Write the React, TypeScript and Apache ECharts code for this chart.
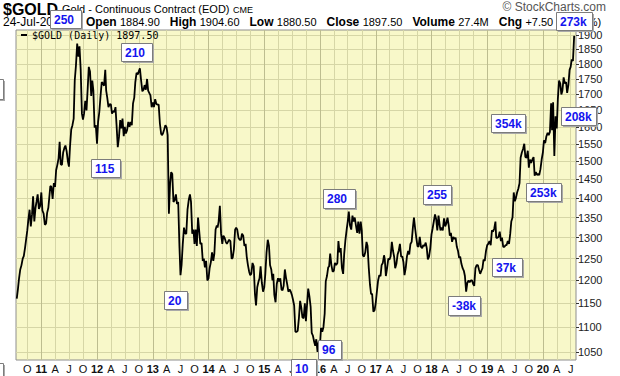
import React, { useEffect, useRef } from "react";
import * as echarts from "echarts";

// ---- data ----
const SLOT_DAYS = [1, 8, 16, 24];

const gold2010 = [1160,
  1182, 1205, 1225, 1235,
  1250, 1256, 1275, 1298,
  1318, 1345, 1370, 1328,
  1358, 1405, 1340, 1375,
  1392, 1410, 1372, 1380];
const gold2011 = [
  1415, 1368, 1360, 1332,
  1335, 1362, 1375, 1410,
  1432, 1430, 1398, 1440,
  1430, 1475, 1490, 1508,
  1556, 1492, 1490, 1525,
  1538, 1545, 1528, 1500,
  1485, 1542, 1592, 1605,
  1625, 1745, 1795, 1870,
  1825, 1860, 1780, 1640,
  1622, 1640, 1680, 1650,
  1720, 1790, 1775, 1695,
  1745, 1712, 1598, 1605];
const gold2012 = [
  1550, 1615, 1645, 1695,
  1740, 1735, 1728, 1780,
  1712, 1690, 1660, 1670,
  1668, 1640, 1648, 1645,
  1660, 1605, 1540, 1570,
  1620, 1595, 1625, 1572,
  1600, 1580, 1590, 1615,
  1600, 1615, 1605, 1672,
  1690, 1740, 1770, 1765,
  1775, 1785, 1745, 1710,
  1715, 1730, 1715, 1750,
  1712, 1705, 1697, 1660];
const gold2013 = [
  1675, 1660, 1685, 1670,
  1668, 1668, 1610, 1580,
  1575, 1580, 1592, 1605,
  1598, 1575, 1360, 1440,
  1470, 1465, 1390, 1395,
  1410, 1385, 1390, 1280,
  1212, 1235, 1285, 1325,
  1310, 1310, 1370, 1395,
  1410, 1390, 1310, 1320,
  1285, 1320, 1280, 1350,
  1315, 1285, 1287, 1245,
  1250, 1230, 1245, 1200];
const gold2014 = [
  1205, 1228, 1242, 1265,
  1245, 1262, 1320, 1330,
  1325, 1340, 1380, 1310,
  1285, 1305, 1300, 1290,
  1285, 1290, 1295, 1292,
  1250, 1252, 1272, 1320,
  1325, 1320, 1300, 1295,
  1295, 1310, 1305, 1280,
  1285, 1255, 1235, 1220,
  1212, 1215, 1240, 1232,
  1170, 1145, 1185, 1197,
  1205, 1232, 1195, 1175];
const gold2015 = [
  1185, 1215, 1265, 1295,
  1280, 1235, 1225, 1200,
  1215, 1168, 1152, 1192,
  1205, 1198, 1205, 1180,
  1178, 1188, 1225, 1205,
  1190, 1175, 1180, 1175,
  1168, 1158, 1145, 1090,
  1090, 1092, 1118, 1155,
  1140, 1120, 1118, 1150,
  1112, 1145, 1182, 1165,
  1142, 1088, 1082, 1070,
  1062, 1075, 1050, 1070];
const gold2016 = [
  1062, 1098, 1090, 1100,
  1128, 1198, 1210, 1230,
  1232, 1262, 1235, 1220,
  1222, 1240, 1235, 1240,
  1292, 1265, 1275, 1228,
  1215, 1262, 1295, 1320,
  1340, 1365, 1330, 1320,
  1355, 1340, 1350, 1330,
  1312, 1340, 1310, 1340,
  1318, 1258, 1255, 1265,
  1290, 1280, 1228, 1190,
  1170, 1170, 1132, 1135];
const gold2017 = [
  1152, 1175, 1200, 1212,
  1210, 1235, 1240, 1258,
  1248, 1210, 1228, 1250,
  1248, 1255, 1290, 1268,
  1255, 1228, 1238, 1260,
  1270, 1285, 1255, 1255,
  1242, 1212, 1228, 1255,
  1268, 1260, 1285, 1290,
  1325, 1350, 1322, 1298,
  1280, 1278, 1302, 1278,
  1275, 1282, 1280, 1288,
  1275, 1248, 1255, 1275];
const gold2018 = [
  1308, 1322, 1340, 1358,
  1345, 1318, 1355, 1330,
  1318, 1325, 1318, 1348,
  1328, 1335, 1350, 1330,
  1305, 1312, 1290, 1302,
  1297, 1300, 1278, 1268,
  1252, 1255, 1238, 1228,
  1222, 1210, 1175, 1195,
  1200, 1196, 1200, 1200,
  1192, 1188, 1228, 1235,
  1235, 1225, 1215, 1222,
  1228, 1248, 1245, 1268];
const gold2019 = [
  1282, 1285, 1292, 1282,
  1318, 1315, 1322, 1340,
  1300, 1300, 1302, 1315,
  1292, 1300, 1278, 1278,
  1282, 1282, 1292, 1285,
  1310, 1340, 1350, 1415,
  1392, 1400, 1415, 1425,
  1440, 1510, 1525, 1535,
  1550, 1512, 1510, 1530,
  1482, 1505, 1495, 1505,
  1512, 1460, 1470, 1462,
  1465, 1462, 1478, 1505];
const gold2020 = [
  1525, 1560, 1552, 1572,
  1582, 1575, 1585, 1672,
  1590, 1675, 1515, 1632,
  1595, 1685, 1745, 1735,
  1700, 1712, 1755, 1735,
  1740, 1705, 1730, 1780,
  1790, 1815, 1810, 1897.5];

const goldYears = [
  { year: 2010, startMonth: 6, startSlot: 3, values: gold2010 },
  { year: 2011, startMonth: 0, startSlot: 0, values: gold2011 },
  { year: 2012, startMonth: 0, startSlot: 0, values: gold2012 },
  { year: 2013, startMonth: 0, startSlot: 0, values: gold2013 },
  { year: 2014, startMonth: 0, startSlot: 0, values: gold2014 },
  { year: 2015, startMonth: 0, startSlot: 0, values: gold2015 },
  { year: 2016, startMonth: 0, startSlot: 0, values: gold2016 },
  { year: 2017, startMonth: 0, startSlot: 0, values: gold2017 },
  { year: 2018, startMonth: 0, startSlot: 0, values: gold2018 },
  { year: 2019, startMonth: 0, startSlot: 0, values: gold2019 },
  { year: 2020, startMonth: 0, startSlot: 0, values: gold2020 },
];

const yTickValues = [1050, 1100, 1150, 1200, 1250, 1300, 1350, 1400, 1450, 1500,
  1550, 1600, 1650, 1700, 1750, 1800, 1850, 1900];

const cotLabels = ["250", "210", "115", "20", "10", "96", "280", "255", "-38k", "37k", "354k", "253k", "208k", "273k", "", ""];

const seriesName = "$GOLD (Daily) 1897.50";

// ---- layout ----
const cotBoxes = [
  [50, 10, 31, 18], [121, 43, 31, 18], [91, 159, 29, 18], [164, 291, 23, 18],
  [291, 359, 25, 20], [318, 340, 23, 19], [323, 189, 32, 19], [423, 185, 28, 19],
  [448, 296, 32, 19], [492, 258, 30, 18], [491, 114, 34, 18], [526, 183, 35, 18],
  [561, 107, 35, 18], [556, 12, 36, 18], [-20, 79, 23, 20], [-20, 363, 23, 20],
];

const FONT = '"Liberation Sans", Arial, sans-serif';

function buildData() {
  const out: [number, number][] = [];
  goldYears.forEach(({ year, startMonth, startSlot, values }) => {
    values.forEach((v, i) => {
      const k = startMonth * 4 + startSlot + i;
      const m = Math.floor(k / 4);
      const d = SLOT_DAYS[k % 4];
      out.push([new Date(year, m, d).getTime(), v]);
    });
  });
  return out;
}

function quarterTicks() {
  const t: number[] = [];
  for (let y = 2010; y <= 2020; y++) {
    for (let m = 0; m < 12; m += 3) {
      const ts = new Date(y, m, 1).getTime();
      if (ts >= new Date(2010, 9, 1).getTime() && ts <= new Date(2020, 6, 1).getTime()) t.push(ts);
    }
  }
  return t;
}

function yearStarts() {
  const t: number[] = [];
  for (let y = 2011; y <= 2020; y++) t.push(new Date(y, 0, 1).getTime());
  return t;
}

export default function App() {
  const ref = useRef<HTMLDivElement>(null);
  useEffect(() => {
    document.body.style.margin = "0";
    const chart = echarts.init(ref.current!, null, { renderer: "svg" });
    const qt = quarterTicks();

    const boxes = cotBoxes.map(([x, y, w, h], i) => ({
      type: "group",
      x,
      y,
      z: 100,
      children: [
        { type: "rect", z: 100, shape: { x: 2, y: 2, width: w, height: h }, style: { fill: "#a9a9a9" } },
        { type: "rect", z: 101, shape: { x: 0.5, y: 0.5, width: w, height: h }, style: { fill: "#ffffff", stroke: "#7c7c7c", lineWidth: 1 } },
        {
          type: "text", z: 102, x: 4, y: Math.min(h / 2 + 1, 10),
          style: { text: cotLabels[i], fill: "#1414ee", font: `bold 12px ${FONT}`, verticalAlign: "middle", align: "left" },
        },
      ],
    }));

    const lbl = (t: string) => `{l|${t}}`;
    const num = (t: string) => `{n|${t}}`;

    const option: any = {
      animation: false,
      backgroundColor: "#ffffff",
      textStyle: { fontFamily: FONT },
      grid: {
        left: 16, right: 44, top: 30, bottom: 16,
        show: true, backgroundColor: "#F8F8C9", borderColor: "#8e8e8e", borderWidth: 1,
      },
      legend: {
        left: 21, top: 30, padding: 0, icon: "rect", itemWidth: 6, itemHeight: 2,
        textStyle: { fontFamily: '"DejaVu Sans Mono", monospace', fontSize: 10, color: "#000" },
        data: [{ name: seriesName, itemStyle: { color: "#000" } }],
      },
      xAxis: {
        type: "value",
        min: new Date(2010, 6, 19).getTime(),
        max: new Date(2020, 7, 5).getTime(),
        axisLine: { show: false },
        axisTick: { show: false, customValues: qt },
        splitLine: { show: true, lineStyle: { color: "#D6D6A6", width: 1 } },
        axisLabel: {
          customValues: qt,
          margin: 3,
          fontSize: 11,
          color: "#111",
          fontFamily: FONT,
          formatter: (val: number) => {
            const d = new Date(val);
            const m = d.getMonth();
            if (m === 0) return `{y|${String(d.getFullYear()).slice(2)}}`;
            return m === 3 ? "A" : m === 6 ? "J" : "O";
          },
          rich: { y: { fontWeight: "bold", fontSize: 11, color: "#111", fontFamily: FONT } },
        },
      },
      yAxis: {
        type: "log",
        logBase: 10,
        position: "right",
        min: 1034,
        max: 1918,
        axisLine: { show: false },
        axisTick: { show: true, length: 3, customValues: yTickValues, lineStyle: { color: "#333" } },
        splitLine: { show: true, lineStyle: { color: "#D6D6A6", width: 1 } },
        axisLabel: {
          customValues: yTickValues,
          margin: 2,
          fontSize: 11,
          color: "#222",
          fontFamily: FONT,
          formatter: (v: number) => String(Math.round(v)),
        },
      },
      series: [
        {
          name: seriesName,
          type: "line",
          data: buildData(),
          showSymbol: false,
          symbol: "none",
          lineStyle: { color: "#000", width: 1.8 },
          itemStyle: { color: "#000" },
          z: 3,
          markLine: {
            silent: true,
            symbol: "none",
            z: 1,
            label: { show: false },
            lineStyle: { color: "#BDBD90", type: "solid", width: 1 },
            data: yearStarts().map((t) => ({ xAxis: t })),
          },
        },
      ],
      graphic: [
        { type: "text", z: 90, x: 3, y: 9, style: { text: "$GOLD", fill: "#000", font: `bold 16px ${FONT}`, verticalAlign: "middle" } },
        { type: "text", z: 90, x: 62, y: 9, style: { text: "Gold - Continuous Contract (EOD)", fill: "#000", font: `11px ${FONT}`, verticalAlign: "middle" } },
        { type: "text", z: 90, x: 233, y: 10, style: { text: "CME", fill: "#000", font: `9px ${FONT}`, verticalAlign: "middle" } },
        { type: "text", z: 90, x: 606, y: 7, style: { text: "\u00A9 StockCharts.com", fill: "#555", font: `12px ${FONT}`, align: "right", verticalAlign: "middle" } },
        { type: "text", z: 90, x: 3, y: 22, style: { text: "24-Jul-2020", fill: "#000", font: `12px ${FONT}`, verticalAlign: "middle" } },
        {
          type: "text", z: 90, x: 86, y: 22,
          style: {
            text: [
              lbl("Open"), num("1884.90"), " ", lbl("High"), num("1904.60"), " ", lbl("Low"), num("1880.50"), " ",
              lbl("Close"), num("1897.50"), " ", lbl("Volume"), num("27.4M"), " ", lbl("Chg"), num("+7.50 (+0.40%)"),
            ].join(" "),
            verticalAlign: "middle",
            font: `12px ${FONT}`,
            fill: "#000",
            rich: {
              l: { fontWeight: "bold", fontSize: 12, fontFamily: FONT, fill: "#000" },
              n: { fontSize: 11, fontFamily: FONT, fill: "#000" },
            },
          },
        },
        ...boxes,
      ],
    };
    chart.setOption(option);
    return () => chart.dispose();
  }, []);
  return <div ref={ref} style={{ width: 620, height: 376 }} />;
}
